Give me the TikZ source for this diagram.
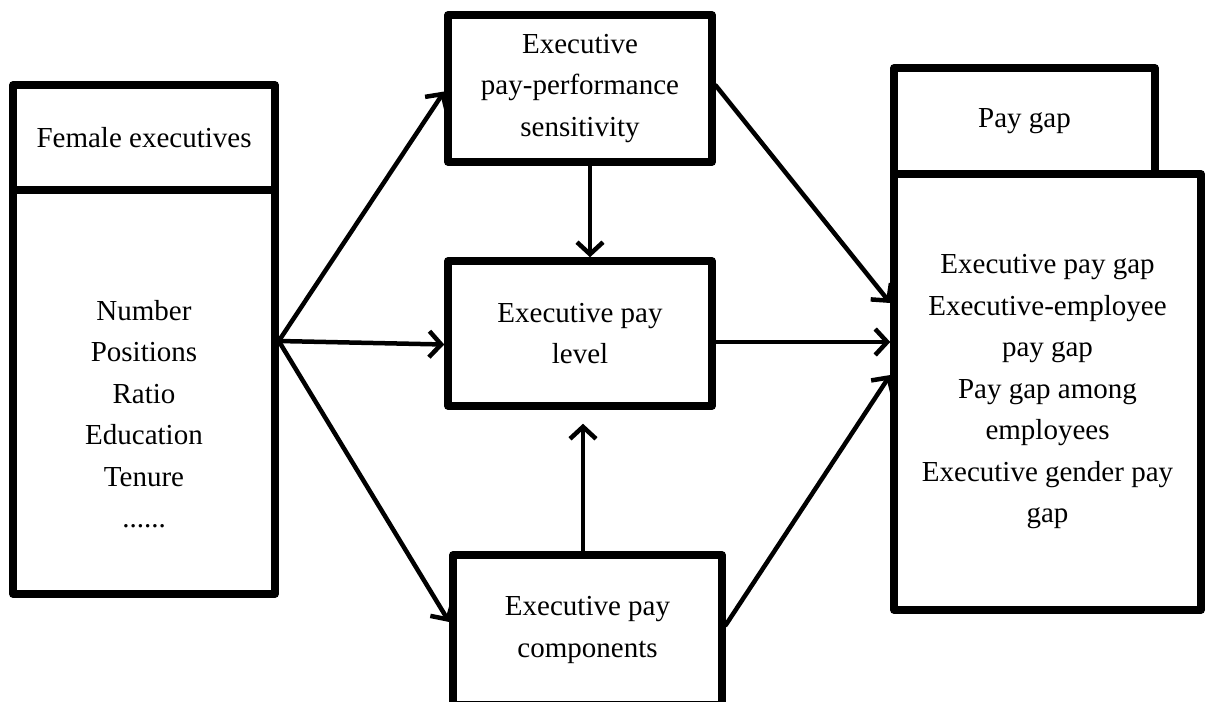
\documentclass[tikz,border=0pt]{standalone}
\usepackage{fontspec}
\setmainfont{Liberation Serif}
\usetikzlibrary{arrows.meta}

\begin{document}
\begin{tikzpicture}[line cap=round,line join=round,x=1pt,y=-1pt,
    >={Straight Barb[length=12pt,width=26pt,line width=4.5pt]},
    box/.style={draw,line width=7.5pt,inner sep=0pt,align=center,font=\fontsize{29}{41.5}\selectfont},
    txt/.style={align=center,font=\fontsize{29}{41.5}\selectfont},
    link/.style={->,line width=4.5pt}]
                \useasboundingbox (0,0) rectangle (1206,701);
                \clip (0,0) rectangle (1206,701);
                % female executives
                \node[box,minimum width=262pt,minimum height=105pt] (fem) at (144,137.5) {Female executives};
                \node[box,minimum width=262pt,minimum height=404pt] (femlist) at (144,392) {};
                \node[txt] (femtxt) at (144,414) {Number\\Positions\\Ratio\\Education\\Tenure\\......};
                % mediators
                \node[box,minimum width=264pt,minimum height=147pt] (pps) at (580,88.5) {Executive\\pay-performance\\sensitivity};
                \node[box,minimum width=264pt,minimum height=145pt] (level) at (580,333.5) {Executive pay\\level};
                \node[box,minimum width=269pt,minimum height=150pt] (comp) at (587.5,630) {Executive pay\\components};
                % pay gap
                \node[box,minimum width=261pt,minimum height=106pt] (pay) at (1024.5,121) {Pay gap};
                \node[box,minimum width=307pt,minimum height=436pt] (paylist) at (1047.5,392) {Executive pay gap\\Executive-employee\\pay gap\\Pay gap among\\employees\\Executive gender pay\\gap};
                \coordinate (fork) at ([yshift=51pt]femlist.east);
                \draw [link] (fork) -- ([yshift=-3pt]pps.west);
                \draw [link] (fork) -- ([yshift=-11pt]level.west);
                \draw [link] (fork) -- ([yshift=8pt]comp.west);
                \draw [link] ([xshift=10pt]pps.south) -- ([xshift=10pt]level.north);
                \draw [link,shorten >=14pt] ([xshift=-4.5pt]comp.north) -- ([xshift=3pt]level.south);
                \draw [link] ([yshift=3pt]pps.east) -- ([yshift=89pt]paylist.west);
                \draw [link] ([yshift=-8.5pt]level.east) -- ([yshift=50pt]paylist.west);
                \draw [link] ([yshift=5pt]comp.east) -- ([yshift=17pt]paylist.west);
                \end{tikzpicture}
\end{document}
